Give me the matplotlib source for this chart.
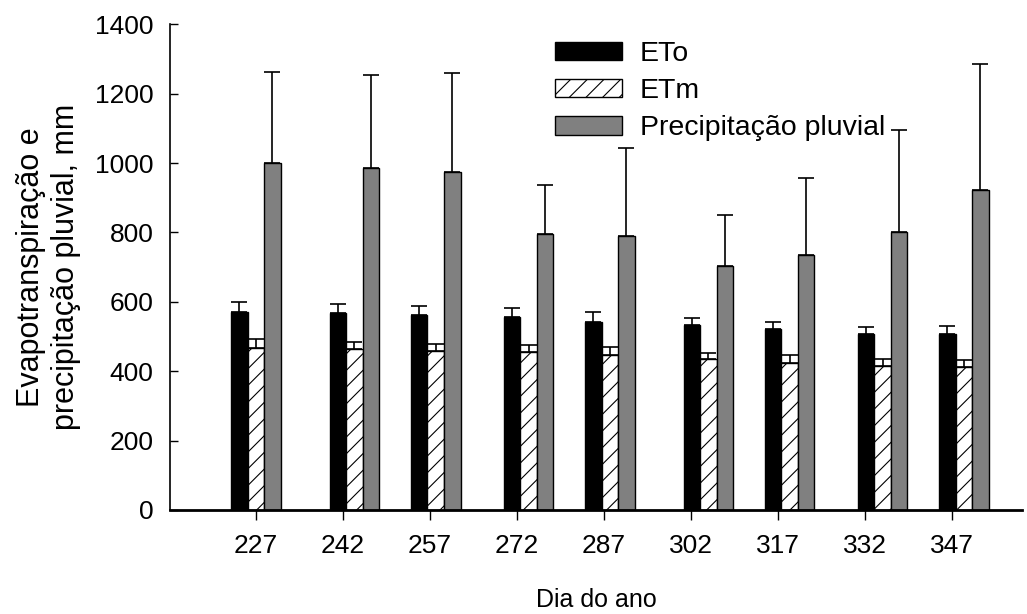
import numpy as np
import matplotlib.pyplot as plt

plt.rcParams['font.family'] = ['Liberation Sans', 'DejaVu Sans']
plt.rcParams['hatch.linewidth'] = 0.8

# day of year for each group of bars (bars sit on sampling days, ticks are every 15 days)
days = [227, 244, 258, 274, 288, 305, 319, 335, 349]
tick_days = [227, 242, 257, 272, 287, 302, 317, 332, 347]

eto = [570, 567, 561, 555, 543, 533, 521, 506, 508]
eto_err = [30, 27, 27, 26, 27, 21, 22, 22, 22]
etm = [466, 463, 457, 454, 446, 435, 425, 415, 411]
etm_err = [26, 22, 22, 23, 23, 18, 23, 21, 21]
prec = [999, 985, 973, 796, 791, 703, 734, 802, 921]
prec_err = [264, 269, 288, 141, 252, 148, 222, 293, 366]

fig = plt.figure(figsize=(10.27, 6.14), dpi=100)
ax = fig.add_axes([0.1655, 0.1694, 0.830, 0.791])

x = np.array(days)
w = 2.85
ekw = dict(ecolor='black', elinewidth=1.2, capsize=6, capthick=1.2)
zeros = [0] * len(x)

ax.bar(x - w, eto, w, color='black', edgecolor='black', linewidth=1,
       yerr=[zeros, eto_err], error_kw=ekw, label='ETo')
ax.bar(x, etm, w, color='white', edgecolor='black', linewidth=1, hatch='//',
       yerr=[zeros, etm_err], error_kw=ekw, label='ETm')
ax.bar(x + w, prec, w, color='#808080', edgecolor='black', linewidth=1,
       yerr=[zeros, prec_err], error_kw=ekw, label='Precipitação pluvial')

ax.set_xlim(212.2, 359.1)
ax.set_ylim(0, 1400)
ax.set_xticks(tick_days)
ax.set_yticks(range(0, 1401, 200))

for s in ['top', 'right']:
    ax.spines[s].set_visible(False)
ax.spines['left'].set_linewidth(1.2)
ax.spines['bottom'].set_linewidth(2)

ax.tick_params(axis='y', direction='in', length=6, width=1, labelsize=19, pad=12)
ax.tick_params(axis='x', direction='out', length=7, width=1, labelsize=19, pad=10)

ax.set_xlabel('Dia do ano', fontsize=18, labelpad=22)
ax.set_ylabel('Evapotranspiração e\nprecipitação pluvial, mm', fontsize=22, labelpad=10)

ax.legend(loc='upper left', bbox_to_anchor=(555 / 1027, 1 - 41 / 614),
          bbox_transform=fig.transFigure, frameon=False, fontsize=20.5,
          handlelength=2.35, handleheight=0.63, handletextpad=0.63,
          labelspacing=0.39, borderpad=0, borderaxespad=0)

fig.savefig('out.png', dpi=100)
